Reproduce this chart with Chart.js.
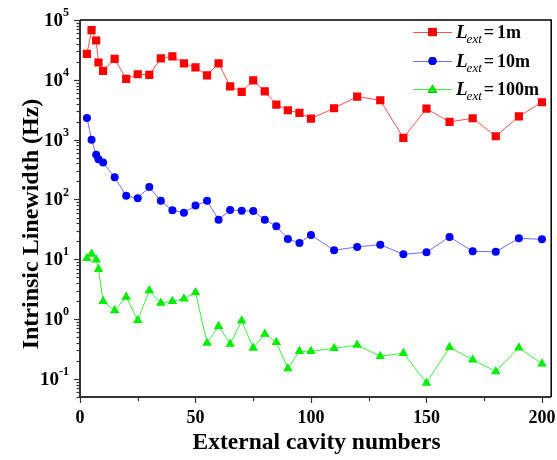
<!DOCTYPE html>
<html>
<head>
<meta charset="utf-8">
<script src="https://cdn.jsdelivr.net/npm/chart.js@4.4.0/dist/chart.umd.min.js"></script>
<style>
  html, body { margin: 0; padding: 0; background: #fff; }
  #wrap { width: 557px; height: 460px; }
</style>
</head>
<body>
<div id="wrap"><canvas id="myChart" width="557" height="460"></canvas></div>
<script>
// DATA
const cavityNumbers = [3, 5, 7, 8, 10, 15, 20, 25, 30, 35, 40, 45, 50, 55, 60, 65, 70, 75, 80, 85, 90, 95, 100,
  110, 120, 130, 140, 150, 160, 170, 180, 190, 200];
const linewidth1m = [27200, 67500, 45400, 19500, 14100, 22400, 10400, 12400, 12100, 22900, 24600, 18900, 16100,
  11900, 18900, 7800, 6300, 9800, 6430, 3860, 3100, 2800, 2250, 3350, 5250, 4560, 1070, 3300, 1980, 2280, 1140, 2450, 4220];
const linewidth10m = [2310, 1000, 560, 470, 414, 235, 115, 105, 162, 95, 66, 60, 79, 95, 46, 67, 65, 64, 46, 35.7,
  21.9, 18.8, 25.6, 14.2, 16.1, 17.6, 12.1, 13.1, 23.7, 13.6, 13.4, 22.4, 21.6];
const linewidth100m = [10.4, 12.3, 9.8, 6.8, 1.99, 1.39, 2.35, 0.955, 3.0, 1.86, 1.99, 2.2, 2.8, 0.40, 0.76, 0.385,
  0.94, 0.33, 0.565, 0.41, 0.15, 0.29, 0.29, 0.325, 0.37, 0.24, 0.27, 0.086, 0.34, 0.21, 0.134, 0.333, 0.18];
const legendLengths = ["1m", "10m", "100m"];
const xTickLabels = [0, 50, 100, 150, 200];
const yTickExponents = [-1, 0, 1, 2, 3, 4, 5];

const SERIF = '"Liberation Serif", "Times New Roman", serif';

function toPoints(values) {
  return values.map((v, i) => ({ x: cavityNumbers[i], y: v }));
}

// axes, tick labels, titles and legend drawn on top of the chart area
const framePlugin = {
  id: "frame",
  afterDraw(chart) {
    const { ctx, chartArea: a, scales } = chart;
    const x = scales.x, y = scales.y;
    ctx.save();

    // box
    ctx.strokeStyle = "#000";
    ctx.lineWidth = 1.5;
    ctx.beginPath();
    ctx.moveTo(a.left, a.top);
    ctx.lineTo(a.right, a.top);
    ctx.lineTo(a.right, a.bottom);
    ctx.stroke();
    ctx.strokeStyle = "#333";
    ctx.lineWidth = 2;
    ctx.beginPath();
    ctx.moveTo(a.left, a.top);
    ctx.lineTo(a.left, a.bottom);
    ctx.lineTo(a.right, a.bottom);
    ctx.stroke();

    // y ticks (log)
    ctx.lineWidth = 1.2;
    for (let k = -2; k <= 5; k++) {
      for (let m = 1; m <= 9; m++) {
        const v = m * Math.pow(10, k);
        if (v < y.min * 0.999 || v > y.max * 1.001) continue;
        const py = Math.round(y.getPixelForValue(v)) + 0.5;
        const len = m === 1 ? 6 : 3.5;
        ctx.beginPath();
        ctx.moveTo(a.left - len, py);
        ctx.lineTo(a.left, py);
        ctx.stroke();
      }
    }
    // x ticks
    for (let v = 0; v <= 200; v += 25) {
      const px = Math.round(x.getPixelForValue(v)) + 0.5;
      const len = v % 50 === 0 ? 6 : 4;
      ctx.beginPath();
      ctx.moveTo(px, a.bottom);
      ctx.lineTo(px, a.bottom + len);
      ctx.stroke();
    }

    ctx.fillStyle = "#000";
    // x tick labels
    ctx.font = "bold 18px " + SERIF;
    ctx.textAlign = "center";
    ctx.textBaseline = "middle";
    xTickLabels.forEach(v => {
      ctx.fillText(String(v), x.getPixelForValue(v), 418);
    });

    // y tick labels 10^n
    yTickExponents.forEach(e => {
      const py = y.getPixelForValue(Math.pow(10, e));
      const exp = String(e);
      ctx.font = "bold 12px " + SERIF;
      const ew = ctx.measureText(exp).width;
      ctx.textAlign = "left";
      ctx.textBaseline = "middle";
      const right = a.left - 11;
      ctx.fillText(exp, right - ew, py - 7);
      ctx.font = "bold 19px " + SERIF;
      ctx.textAlign = "right";
      ctx.fillText("10", right - ew, py + 1);
    });

    // axis titles
    ctx.font = "bold 23.5px " + SERIF;
    ctx.textAlign = "center";
    ctx.textBaseline = "alphabetic";
    ctx.fillText("External cavity numbers", (a.left + a.right) / 2 + 1, 449);

    ctx.save();
    ctx.translate(38, 224);
    ctx.rotate(-Math.PI / 2);
    ctx.font = "bold 24px " + SERIF;
    ctx.fillText("Intrinsic Linewidth (Hz)", 0, 0);
    ctx.restore();

    // legend
    const rowsY = [32, 61, 89];
    chart.data.datasets.forEach((ds, i) => {
      const ly = rowsY[i];
      ctx.strokeStyle = ds.borderColor;
      ctx.lineWidth = 1;
      ctx.beginPath();
      ctx.moveTo(413, ly + 0.5);
      ctx.lineTo(452, ly + 0.5);
      ctx.stroke();
      Chart.helpers.drawPoint(ctx, {
        pointStyle: ds.pointStyle,
        radius: ds.pointRadius,
        borderWidth: 0,
        rotation: 0
      }, 432.5, ly + (ds.pointStyle === "triangle" ? 1 : 0));
      ctx.fillStyle = ds.pointBackgroundColor;
      ctx.fill();

      ctx.fillStyle = "#000";
      ctx.textAlign = "left";
      ctx.textBaseline = "alphabetic";
      let tx = 456;
      const base = ly + 6;
      ctx.font = "italic bold 19px " + SERIF;
      ctx.fillText("L", tx, base);
      tx += ctx.measureText("L").width - 1;
      ctx.font = "italic 13px " + SERIF;
      ctx.fillText("ext", tx, base + 5);
      tx += ctx.measureText("ext").width + 2;
      ctx.font = "bold 18px " + SERIF;
      ctx.fillText("=", tx, base);
      tx += ctx.measureText("=").width + 3;
      ctx.fillText(legendLengths[i], tx, base);
    });

    ctx.restore();
  }
};

const ctx = document.getElementById("myChart");
const myChart = new Chart(ctx, {
  type: "line",
  data: {
    datasets: [
      {
        label: "Lext = 1m",
        data: toPoints(linewidth1m),
        borderColor: "rgba(255, 80, 80, 1)",
        borderWidth: 1,
        pointStyle: "rect",
        pointRadius: 5.8,
        pointBackgroundColor: "#ff0000",
        pointBorderColor: "#ff0000",
        pointBorderWidth: 0
      },
      {
        label: "Lext = 10m",
        data: toPoints(linewidth10m),
        borderColor: "rgba(110, 110, 255, 1)",
        borderWidth: 1,
        pointStyle: "circle",
        pointRadius: 4,
        pointBackgroundColor: "#0000ff",
        pointBorderColor: "#0000ff",
        pointBorderWidth: 0
      },
      {
        label: "Lext = 100m",
        data: toPoints(linewidth100m),
        borderColor: "rgba(60, 240, 60, 1)",
        borderWidth: 1,
        pointStyle: "triangle",
        pointRadius: 5.5,
        pointBackgroundColor: "#00ee00",
        pointBorderColor: "#00ee00",
        pointBorderWidth: 0
      }
    ]
  },
  options: {
    responsive: false,
    animation: false,
    layout: { padding: { left: 80, top: 20, right: 4, bottom: 63 } },
    plugins: {
      legend: { display: false },
      tooltip: { enabled: false }
    },
    scales: {
      x: { type: "linear", min: 0, max: 204, display: false },
      y: { type: "logarithmic", min: 0.05, max: 100000, display: false }
    }
  },
  plugins: [framePlugin]
});
</script>
</body>
</html>
